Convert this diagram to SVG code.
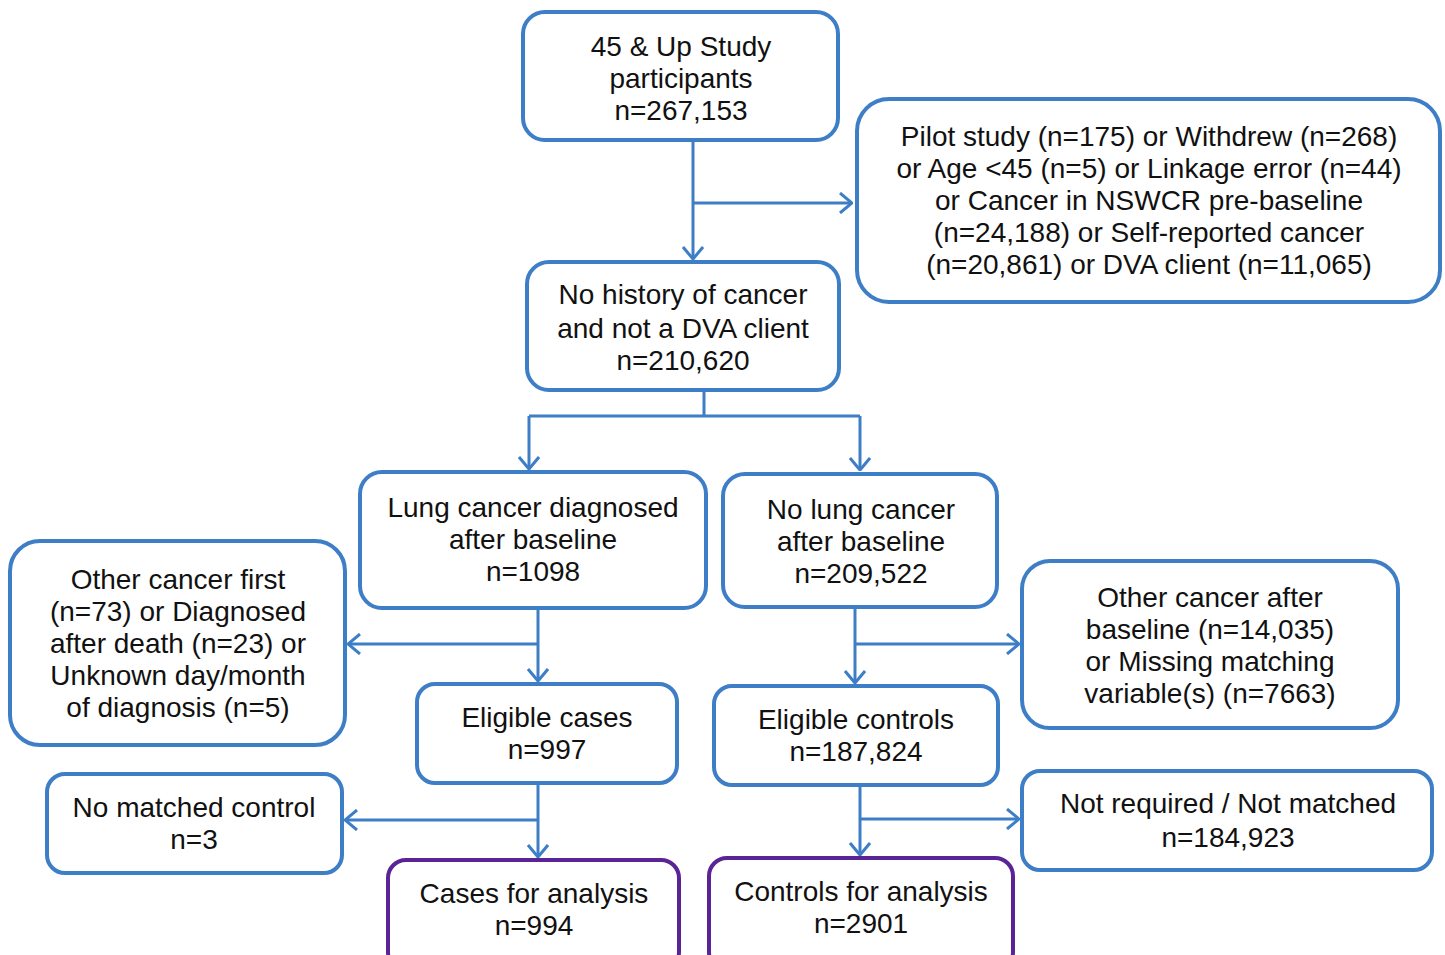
<svg xmlns="http://www.w3.org/2000/svg" width="1445" height="955" viewBox="0 0 1445 955">
<style>
.b{fill:#fff;stroke:#3d7ec6;stroke-width:4}
.p{fill:#fff;stroke:#5b2496;stroke-width:4}
.t{font-family:"Liberation Sans",Arial,sans-serif;font-size:28px;fill:#111;text-anchor:middle}
.c{fill:none;stroke:#3d7ec6;stroke-width:3}
</style>
<defs>
<marker id="a" viewBox="0 0 14 22" refX="13" refY="11" markerWidth="14" markerHeight="22" markerUnits="userSpaceOnUse" orient="auto">
<path d="M1,1 L13,11 L1,21" fill="none" stroke="#3d7ec6" stroke-width="3"/>
</marker>
</defs>
<rect width="1445" height="955" fill="#fff"/>
<g id="connectors">
<path class="c" d="M693,140 V259" marker-end="url(#a)"/>
<path class="c" d="M693,203 H852" marker-end="url(#a)"/>
<path class="c" d="M704,390 V416 M529,416 H860"/>
<path class="c" d="M529,416 V469" marker-end="url(#a)"/>
<path class="c" d="M860,416 V470" marker-end="url(#a)"/>
<path class="c" d="M538,608 V681" marker-end="url(#a)"/>
<path class="c" d="M538,644 H348" marker-end="url(#a)"/>
<path class="c" d="M855,607 V683" marker-end="url(#a)"/>
<path class="c" d="M855,644 H1019" marker-end="url(#a)"/>
<path class="c" d="M538,783 V857" marker-end="url(#a)"/>
<path class="c" d="M538,820 H345" marker-end="url(#a)"/>
<path class="c" d="M860,785 V855" marker-end="url(#a)"/>
<path class="c" d="M860,819 H1019" marker-end="url(#a)"/>
</g>
<g id="n1"><rect class="b" x="523" y="12" width="315" height="128" rx="22"/>
<text class="t" x="681" y="56">45 &amp; Up Study</text><text class="t" x="681" y="88">participants</text><text class="t" x="681" y="120">n=267,153</text></g>
<g id="n2"><rect class="b" x="857" y="99" width="583" height="203" rx="32"/>
<text class="t" x="1149" y="146">Pilot study (n=175) or Withdrew (n=268)</text><text class="t" x="1149" y="178">or Age &lt;45 (n=5) or Linkage error (n=44)</text><text class="t" x="1149" y="210">or Cancer in NSWCR pre-baseline</text><text class="t" x="1149" y="242">(n=24,188) or Self-reported cancer</text><text class="t" x="1149" y="274">(n=20,861) or DVA client (n=11,065)</text></g>
<g id="n3"><rect class="b" x="527" y="262" width="312" height="128" rx="22"/>
<text class="t" x="683" y="304">No history of cancer</text><text class="t" x="683" y="338">and not a DVA client</text><text class="t" x="683" y="370">n=210,620</text></g>
<g id="n4"><rect class="b" x="360" y="472" width="346" height="136" rx="22"/>
<text class="t" x="533" y="517">Lung cancer diagnosed</text><text class="t" x="533" y="549">after baseline</text><text class="t" x="533" y="581">n=1098</text></g>
<g id="n5"><rect class="b" x="723" y="474" width="274" height="133" rx="22"/>
<text class="t" x="861" y="519">No lung cancer</text><text class="t" x="861" y="551">after baseline</text><text class="t" x="861" y="583">n=209,522</text></g>
<g id="n6"><rect class="b" x="10" y="541" width="335" height="204" rx="30"/>
<text class="t" x="178" y="589">Other cancer first</text><text class="t" x="178" y="621">(n=73) or Diagnosed</text><text class="t" x="178" y="653">after death (n=23) or</text><text class="t" x="178" y="685">Unknown day/month</text><text class="t" x="178" y="717">of diagnosis (n=5)</text></g>
<g id="n7"><rect class="b" x="417" y="684" width="260" height="99" rx="18"/>
<text class="t" x="547" y="727">Eligible cases</text><text class="t" x="547" y="759">n=997</text></g>
<g id="n8"><rect class="b" x="714" y="686" width="284" height="99" rx="18"/>
<text class="t" x="856" y="729">Eligible controls</text><text class="t" x="856" y="761">n=187,824</text></g>
<g id="n9"><rect class="b" x="1022" y="561" width="376" height="167" rx="28"/>
<text class="t" x="1210" y="607">Other cancer after</text><text class="t" x="1210" y="639">baseline (n=14,035)</text><text class="t" x="1210" y="671">or Missing matching</text><text class="t" x="1210" y="703">variable(s) (n=7663)</text></g>
<g id="n10"><rect class="b" x="47" y="774" width="295" height="99" rx="18"/>
<text class="t" x="194" y="817">No matched control</text><text class="t" x="194" y="849">n=3</text></g>
<g id="n11"><rect class="b" x="1022" y="771" width="410" height="99" rx="18"/>
<text class="t" x="1228" y="813">Not required / Not matched</text><text class="t" x="1228" y="847">n=184,923</text></g>
<g id="n12"><rect class="p" x="388" y="860" width="291" height="110" rx="18"/>
<text class="t" x="534" y="903">Cases for analysis</text><text class="t" x="534" y="935">n=994</text></g>
<g id="n13"><rect class="p" x="709" y="858" width="304" height="112" rx="18"/>
<text class="t" x="861" y="901">Controls for analysis</text><text class="t" x="861" y="933">n=2901</text></g>
</svg>
